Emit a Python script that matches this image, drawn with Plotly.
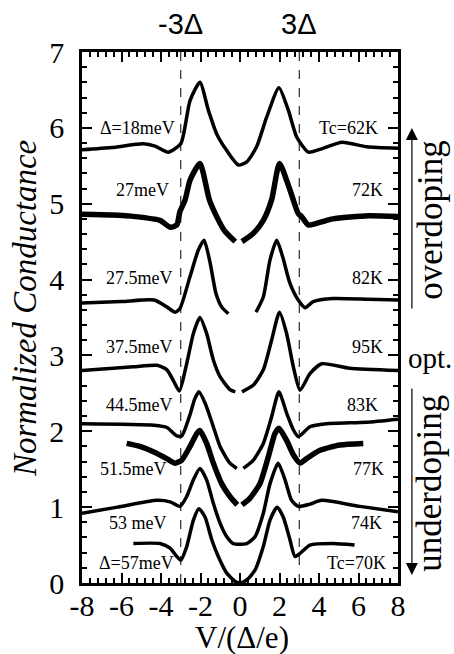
import plotly.graph_objects as go

# ---------------- data ----------------
# V/(Delta/e) and normalized conductance (offset) for each spectrum, top to bottom
x_18 = [-8, -6.5, -4.9, -4.3, -3.64, -3.0, -2.53, -2.03, -1.6, -1.18, -0.67, -0.08, 0.34, 0.84, 1.35, 1.97, 2.45, 2.87, 3.46, 4.2, 5.17, 6.42, 8]
y_18 = [5.71, 5.74, 5.79, 5.76, 5.68, 5.79, 6.36, 6.60, 6.23, 5.92, 5.70, 5.51, 5.55, 5.75, 6.14, 6.53, 6.23, 5.88, 5.68, 5.73, 5.81, 5.75, 5.73]

x_27 = [-8, -6.5, -5.3, -4.05, -3.54, -3.2, -3.05, -2.78, -2.53, -2.03, -1.55, -1.18, -0.8, -0.24, None,
        0.1, 0.68, 1.18, 1.6, 2.0, 2.53, 2.95, 3.12, 3.46, 4.0, 4.7, 6.5, 8]
y_27 = [4.86, 4.85, 4.83, 4.78, 4.69, 4.72, 4.89, 5.05, 5.31, 5.53, 5.05, 4.83, 4.65, 4.50, None,
        4.50, 4.61, 4.78, 5.05, 5.53, 5.18, 4.87, 4.83, 4.72, 4.75, 4.80, 4.84, 4.83]

x_275 = [-8, -6, -4.35, -3.71, -3.29, -3.04, -2.53, -2.11, -1.82, -1.52, -1.22, -0.93, -0.59, None,
         0.81, 1.18, 1.52, 1.86, 2.16, 2.53, 2.95, 3.29, 3.71, 4.7, 6.5, 8]
y_275 = [3.69, 3.71, 3.73, 3.64, 3.57, 3.62, 4.04, 4.39, 4.52, 4.23, 3.82, 3.64, 3.55, None,
         3.57, 3.77, 4.26, 4.52, 4.30, 3.95, 3.73, 3.63, 3.71, 3.75, 3.74, 3.73]

x_375 = [-8, -5.4, -4.2, -3.7, -3.38, -3.07, -2.70, -2.36, -2.03, -1.69, -1.35, -1.01, -0.51, -0.24, None,
         0.1, 0.68, 1.18, 1.6, 2.0, 2.36, 2.70, 3.04, 3.54, 4.13, 5.55, 8]
y_375 = [2.80, 2.85, 2.87, 2.81, 2.67, 2.53, 2.89, 3.29, 3.50, 3.29, 2.94, 2.72, 2.55, 2.52, None,
         2.52, 2.61, 2.81, 3.20, 3.57, 3.29, 2.85, 2.54, 2.76, 2.89, 2.83, 2.80]

x_445 = [-8, -4.35, -3.7, -3.2, -2.95, -2.53, -2.3, -2.08, -1.75, -1.35, -1.01, -0.51, -0.16, None,
         0.17, 0.68, 1.18, 1.6, 1.97, 2.36, 2.70, 2.95, 3.54, 4.38, 6.4, 8]
y_445 = [2.10, 2.08, 2.05, 1.94, 1.94, 2.22, 2.42, 2.52, 2.36, 2.06, 1.80, 1.58, 1.51, None,
         1.51, 1.62, 1.84, 2.19, 2.52, 2.24, 2.02, 1.93, 2.06, 2.10, 2.12, 2.16]

x_515 = [-5.74, -5.07, -4.39, -3.71, -3.29, -2.95, -2.53, -2.19, -2.03, -1.69, -1.35, -0.93, -0.51, -0.14, None,
         0.1, 0.51, 1.01, 1.43, 1.77, 1.97, 2.36, 2.70, 3.04, 3.37, 4.05, 5.06, 6.24]
y_515 = [1.84, 1.80, 1.73, 1.64, 1.58, 1.62, 1.80, 1.97, 2.01, 1.84, 1.58, 1.31, 1.14, 1.03, None,
         1.03, 1.12, 1.31, 1.66, 1.97, 2.04, 1.88, 1.69, 1.58, 1.64, 1.75, 1.82, 1.84]

x_53 = [-8, -6.2, -4.2, -3.54, -3.04, -2.70, -2.36, -2.03, -1.69, -1.35, -1.01, -0.67, -0.34, 0.34, 0.76,
        1.18, 1.52, 1.93, 2.28, 2.61, 2.95, 3.54, 4.13, 6.07, 8]
y_53 = [0.92, 1.00, 1.09, 1.07, 1.01, 1.14, 1.36, 1.51, 1.36, 1.05, 0.79, 0.61, 0.52, 0.52, 0.61,
        0.92, 1.31, 1.58, 1.36, 1.09, 1.01, 1.04, 1.09, 1.01, 0.94]

x_57 = [-5.4, -4.05, -3.54, -3.2, -3.0, -2.70, -2.36, -2.08, -1.77, -1.43, -1.1, -0.67, -0.24, 0.0, 0.34,
        0.76, 1.18, 1.52, 1.88, 2.19, 2.53, 2.78, 3.04, 3.54, 4.7, 5.8]
y_57 = [0.52, 0.52, 0.46, 0.35, 0.30, 0.48, 0.83, 0.98, 0.87, 0.57, 0.35, 0.13, 0.02, 0.0, 0.04,
        0.17, 0.48, 0.83, 1.00, 0.87, 0.57, 0.35, 0.39, 0.50, 0.52, 0.50]

gap_labels = ["Δ=18meV", "27meV", "27.5meV", "37.5meV", "44.5meV", "51.5meV", "53 meV", "Δ=57meV"]
tc_labels = ["Tc=62K", "72K", "82K", "95K", "83K", "77K", "74K", "Tc=70K"]
label_y = [6.0, 5.18, 4.02, 3.11, 2.35, 1.50, 0.79, 0.26]
gap_label_x = [-3.2, -3.5, -3.3, -3.3, -3.3, -3.6, -3.6, -3.25]
tc_label_x = [7.1, 7.35, 7.35, 7.35, 7.1, 7.4, 7.3, 7.5]

x_ticks = [-8, -6, -4, -2, 0, 2, 4, 6, 8]
y_ticks = [0, 1, 2, 3, 4, 5, 6, 7]
marker_x = [-3, 3]
marker_text = ["-3Δ", "3Δ"]

# ---------------- figure ----------------
SERIF = "Liberation Serif, Times New Roman, serif"
fig = go.Figure()

series = [(x_18, y_18, 3.5), (x_27, y_27, 5.5), (x_275, y_275, 3.5), (x_375, y_375, 3.5),
          (x_445, y_445, 3.5), (x_515, y_515, 5.5), (x_53, y_53, 3.5), (x_57, y_57, 3.5)]
for xs, ys, w in series:
    fig.add_trace(go.Scatter(x=xs, y=ys, mode="lines",
                             line=dict(color="black", width=w, shape="spline", smoothing=0.6),
                             connectgaps=False, hoverinfo="skip", showlegend=False))

for xv in marker_x:
    fig.add_shape(type="line", x0=xv, x1=xv, y0=0, y1=7, xref="x", yref="y",
                  line=dict(color="black", width=1, dash="dash"), layer="below")

for xv, t in zip(marker_x, marker_text):
    fig.add_annotation(x=xv, y=7, xref="x", yref="y", text=t, showarrow=False,
                       xanchor="center", yanchor="bottom", yshift=10,
                       font=dict(family="Liberation Sans, Arial, sans-serif", size=29, color="black"))

for t, xv, yv in zip(gap_labels, gap_label_x, label_y):
    fig.add_annotation(x=xv, y=yv, text=t, showarrow=False, xanchor="right", yanchor="middle",
                       font=dict(family=SERIF, size=18, color="black"))
for t, xv, yv in zip(tc_labels, tc_label_x, label_y):
    fig.add_annotation(x=xv, y=yv, text=t, showarrow=False, xanchor="right", yanchor="middle",
                       font=dict(family=SERIF, size=18, color="black"))

# axis titles
fig.add_annotation(xref="paper", yref="paper", x=-0.18, y=0.516, text="<i>Normalized Conductance</i>",
                   showarrow=False, textangle=-90, xanchor="center", yanchor="middle",
                   font=dict(family=SERIF, size=33, color="black"))
fig.add_annotation(xref="paper", yref="paper", x=0.506, y=-0.1017, text="V/(Δ/e)",
                   showarrow=False, xanchor="center", yanchor="middle",
                   font=dict(family=SERIF, size=31, color="black"))

# doping annotations on the right
fig.add_annotation(xref="paper", yref="paper", x=1.104, y=0.684, text="overdoping",
                   showarrow=False, textangle=-90, xanchor="center", yanchor="middle",
                   font=dict(family=SERIF, size=35, color="black"))
fig.add_annotation(xref="paper", yref="paper", x=1.10, y=0.188, text="underdoping",
                   showarrow=False, textangle=-90, xanchor="center", yanchor="middle",
                   font=dict(family=SERIF, size=35, color="black"))
fig.add_annotation(xref="paper", yref="paper", x=1.0285, y=0.424, text="opt.", xanchor="left",
                   yanchor="middle", showarrow=False, borderpad=0,
                   font=dict(family=SERIF, size=29, color="black"))
fig.add_annotation(xref="paper", yref="paper", x=1.044, y=0.857, ax=0, ay=182, text="",
                   showarrow=True, arrowhead=2, arrowsize=2, arrowwidth=1.2, arrowcolor="black")
fig.add_annotation(xref="paper", yref="paper", x=1.044, y=0.015, ax=0, ay=-188, text="",
                   showarrow=True, arrowhead=2, arrowsize=2, arrowwidth=1.2, arrowcolor="black")

axis_common = dict(showgrid=False, zeroline=False, showline=True, linecolor="black", linewidth=2.5,
                   mirror="ticks", ticks="inside", ticklen=10, tickwidth=2, tickcolor="black",
                   tickfont=dict(family=SERIF, size=30, color="black"))
fig.update_xaxes(range=[-8, 8], tickvals=x_ticks, ticktext=[str(v) for v in x_ticks],
                 minor=dict(dtick=0.4, tick0=-8, ticks="inside", ticklen=5, tickwidth=1.5, tickcolor="black"),
                 **axis_common)
fig.update_yaxes(range=[0, 7], tickvals=y_ticks, ticktext=[str(v) for v in y_ticks],
                 minor=dict(dtick=0.2, tick0=0, ticks="inside", ticklen=5, tickwidth=1.5, tickcolor="black"),
                 **axis_common)
fig.update_xaxes(ticklabelstandoff=-6)
fig.update_yaxes(ticklabelstandoff=9)

fig.update_layout(width=454, height=654, margin=dict(l=82, r=56, t=52, b=71, autoexpand=False),
                  plot_bgcolor="white", paper_bgcolor="white", showlegend=False)

# remove the page's default 8px body margin so the figure fills the window exactly
fig.write_html("out.html", config={"displayModeBar": False},
               post_script="document.body.style.margin='0';")
